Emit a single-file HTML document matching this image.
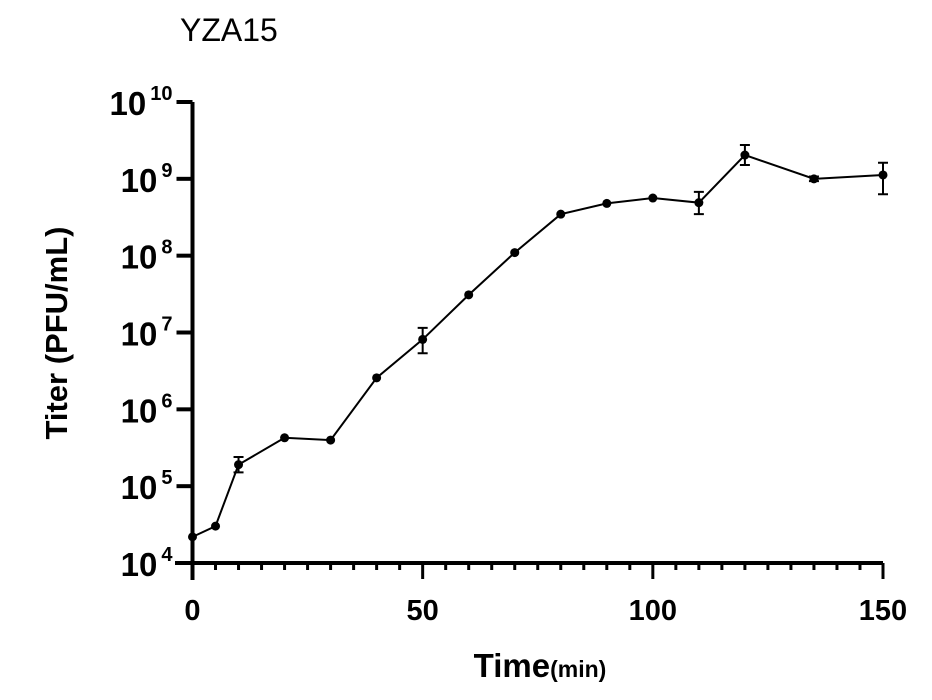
<!DOCTYPE html>
<html><head><meta charset="utf-8"><style>
body{margin:0;background:#fff;}
svg{display:block;font-family:"Liberation Sans",Arial,sans-serif;}
</style></head><body>
<svg id="chart" width="932" height="700">
<text x="180" y="41" font-size="32">YZA15</text>
<text transform="translate(67,333) rotate(-90)" text-anchor="middle" font-size="31" font-weight="bold">Titer (PFU/mL)</text>
<text x="540" y="677" text-anchor="middle" font-weight="bold"><tspan font-size="33">Time</tspan><tspan font-size="23">(min)</tspan></text>
<g id="axes"></g>
<g id="series"></g>
</svg>
<script>
const times=[0,5,10,20,30,40,50,60,70,80,90,100,110,120,135,150];
const logTiter=[4.34,4.48,5.28,5.63,5.60,6.41,6.91,7.49,8.04,8.54,8.68,8.75,8.69,9.31,9.0,9.05];
const errUp=[0,0,0.10,0,0,0,0.15,0,0,0,0,0,0.14,0.13,0.03,0.16];
const errDown=[0,0,0.10,0,0,0,0.18,0,0,0,0,0,0.15,0.13,0.03,0.25];
const xTicks=[0,50,100,150];
const yExps=[4,5,6,7,8,9,10];
const NS="http://www.w3.org/2000/svg";
const X0=192.5,X1=883,Y0=563,Y1=102;
const xs=t=>X0+(t-0)/(150-0)*(X1-X0);
const ys=l=>Y0-(l-4)/(10-4)*(Y0-Y1);
function mk(tag,attrs,parent){const e=document.createElementNS(NS,tag);for(const k in attrs)e.setAttribute(k,attrs[k]);parent.appendChild(e);return e;}
const ax=document.getElementById('axes'),sr=document.getElementById('series');
let e;
e=mk('line',{x1:X0,y1:Y1,x2:X0,y2:580,stroke:'#000','stroke-width':4},ax);


e=mk('line',{x1:175,y1:Y0,x2:X1,y2:Y0,stroke:'#000','stroke-width':4},ax);


for(let t=5;t<150;t+=5){
  if(xTicks.includes(t))continue;
  e=mk('line',{x1:xs(t),y1:Y0,x2:xs(t),y2:Y0+7,stroke:'#000','stroke-width':3},ax);
  
  
}
xTicks.forEach(t=>{
  e=mk('line',{x1:xs(t),y1:Y0,x2:xs(t),y2:Y0+16,stroke:'#000','stroke-width':3},ax);
  
  
  e=mk('text',{x:xs(t),y:620,'text-anchor':'middle','font-size':29,'font-weight':'bold'},ax);
  e.textContent=t;
  
  
});
yExps.forEach(p=>{
  e=mk('line',{x1:X0-16,y1:ys(p),x2:X0,y2:ys(p),stroke:'#000','stroke-width':4},ax);
  
  
  e=mk('text',{x:X0-20,y:ys(p)+13,'text-anchor':'end','font-weight':'bold'},ax);
  e.innerHTML='<tspan font-size="33">10</tspan><tspan font-size="20" dx="4" dy="-15">'+p+'</tspan>';
  
  
});
e=mk('polyline',{points:times.map((t,i)=>xs(t)+','+ys(logTiter[i])).join(' '),fill:'none',stroke:'#000','stroke-width':2},sr);


times.forEach((t,i)=>{
  const x=xs(t);
  if(errUp[i]||errDown[i]){
    const yu=ys(logTiter[i]+errUp[i]),yd=ys(logTiter[i]-errDown[i]);
    e=mk('path',{d:`M${x},${yu}V${yd}M${x-5},${yu}H${x+5}M${x-5},${yd}H${x+5}`,stroke:'#000','stroke-width':2,fill:'none'},sr);
    
    
  }
  e=mk('circle',{cx:x,cy:ys(logTiter[i]),r:4.5,fill:'#000'},sr);
  
  
});
</script>
</body></html>
